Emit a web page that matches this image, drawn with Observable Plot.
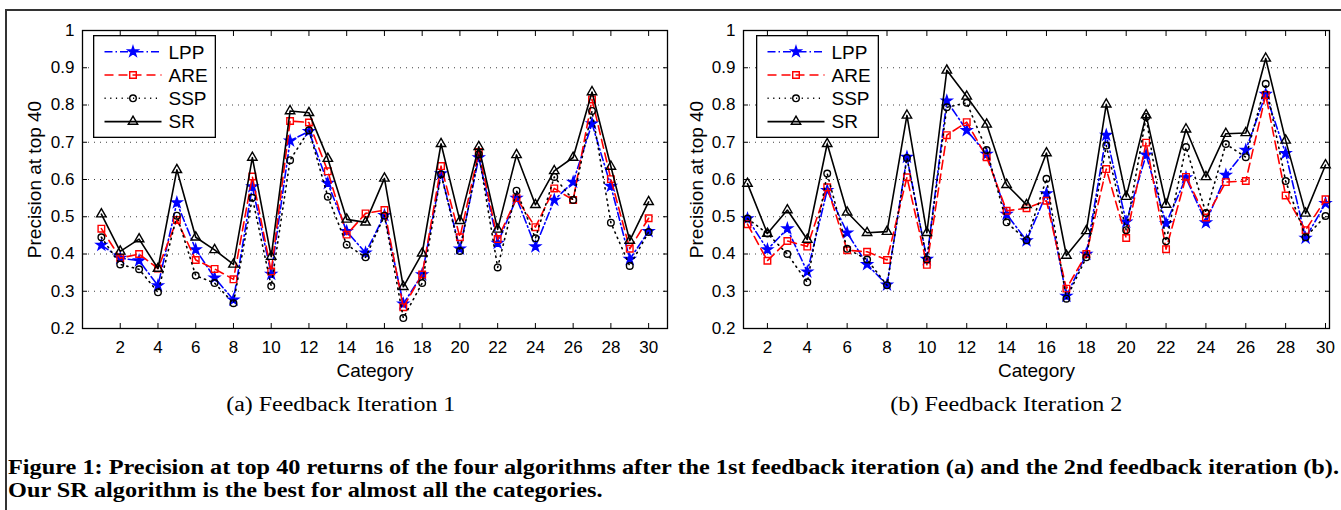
<!DOCTYPE html>
<html><head><meta charset="utf-8">
<script src="https://cdn.jsdelivr.net/npm/d3@7"></script>
<script src="https://cdn.jsdelivr.net/npm/@observablehq/plot@0.6"></script>
<style>
html,body{margin:0;padding:0;background:#fff;}
body{width:1341px;height:510px;overflow:hidden;position:relative;font-family:"Liberation Sans",Arial,sans-serif;}
#frame{position:absolute;left:5px;top:9px;width:1400px;height:600px;border-left:2px solid #333;border-top:2px solid #333;}
.panel{position:absolute;top:0;}
.sub{position:absolute;top:394px;font-family:"Liberation Serif","Times New Roman",serif;font-size:20px;line-height:20px;white-space:nowrap;}
.cap{position:absolute;left:8px;font-family:"Liberation Serif","Times New Roman",serif;font-weight:bold;font-size:20px;line-height:23px;white-space:nowrap;transform-origin:0 0;}
.legend{position:absolute;top:35px;}
</style>
</head><body>
<div id="frame"></div>
<div id="pa" class="panel" style="left:0px"></div>
<div id="pb" class="panel" style="left:675px"></div>
<div id="la" class="legend" style="left:93px"></div>
<div id="lb" class="legend" style="left:756px"></div>
<div id="suba" class="sub" data-cx="341" data-w="229">(a) Feedback Iteration 1</div>
<div id="subb" class="sub" data-cx="1006" data-w="232">(b) Feedback Iteration 2</div>
<div id="cap1" class="cap" style="top:456px" data-w="1331">Figure 1: Precision at top 40 returns of the four algorithms after the 1st feedback iteration (a) and the 2nd feedback iteration (b).</div>
<div id="cap2" class="cap" style="top:479px" data-ref="cap1">Our SR algorithm is the best for almost all the categories.</div>
<script>
const categories = [1,2,3,4,5,6,7,8,9,10,11,12,13,14,15,16,17,18,19,20,21,22,23,24,25,26,27,28,29,30];
const xTicks = [2,4,6,8,10,12,14,16,18,20,22,24,26,28,30];
const yTicks = [0.2,0.3,0.4,0.5,0.6,0.7,0.8,0.9,1];

// Feedback Iteration 1
const lpp1 = [0.424,0.389,0.382,0.315,0.538,0.412,0.336,0.277,0.581,0.346,0.704,0.729,0.590,0.461,0.403,0.504,0.266,0.345,0.616,0.414,0.659,0.429,0.550,0.420,0.545,0.593,0.750,0.582,0.386,0.461];
const are1 = [0.468,0.389,0.400,0.361,0.491,0.384,0.360,0.332,0.608,0.353,0.757,0.753,0.622,0.452,0.509,0.518,0.257,0.345,0.636,0.445,0.674,0.440,0.550,0.472,0.576,0.545,0.815,0.601,0.414,0.496];
const ssp1 = [0.445,0.372,0.359,0.297,0.503,0.342,0.322,0.268,0.551,0.314,0.652,0.732,0.554,0.425,0.391,0.503,0.228,0.322,0.614,0.408,0.668,0.364,0.570,0.442,0.607,0.545,0.784,0.484,0.368,0.459];
const sr1  = [0.507,0.407,0.440,0.361,0.626,0.445,0.411,0.372,0.659,0.393,0.784,0.779,0.656,0.493,0.485,0.603,0.312,0.402,0.696,0.489,0.688,0.466,0.666,0.532,0.623,0.659,0.835,0.635,0.436,0.540];

// Feedback Iteration 2
const lpp2 = [0.495,0.412,0.468,0.352,0.571,0.457,0.372,0.317,0.660,0.386,0.811,0.732,0.668,0.507,0.436,0.562,0.287,0.400,0.719,0.486,0.666,0.482,0.605,0.484,0.612,0.679,0.829,0.670,0.443,0.536];
const are2 = [0.480,0.382,0.435,0.420,0.579,0.410,0.406,0.384,0.606,0.371,0.719,0.754,0.660,0.516,0.523,0.543,0.307,0.400,0.628,0.443,0.699,0.413,0.607,0.498,0.593,0.596,0.827,0.557,0.464,0.547];
const ssp2 = [0.495,0.455,0.400,0.324,0.616,0.414,0.385,0.316,0.658,0.385,0.794,0.806,0.679,0.485,0.437,0.602,0.280,0.391,0.691,0.464,0.768,0.434,0.687,0.510,0.695,0.660,0.857,0.596,0.445,0.502];
const sr2  = [0.589,0.455,0.518,0.439,0.696,0.512,0.457,0.460,0.772,0.457,0.893,0.823,0.748,0.586,0.532,0.671,0.396,0.462,0.802,0.554,0.773,0.533,0.735,0.607,0.723,0.725,0.925,0.705,0.509,0.639];

const seriesNames   = ["LPP","ARE","SSP","SR"];
const seriesColors  = ["#0000ff","#ff0000","#000000","#000000"];
const seriesDash    = ["8,3,1.5,3","9,5","1.2,4.5",null];
const seriesSymbols = ["star","square","circle","triangle"];
const seriesR       = [3.2,3.7,3.3,3.5];
const seriesFill    = ["#0000ff","none","none","none"];

const fmt = d => String(+d.toFixed(1));
const FONT = "'Liberation Sans', Arial, sans-serif";

function rowsFor(values) {
  return categories.map((c, i) => ({cat: c, value: values[i]}));
}

function panel(seriesValues, xDomain, width, ml, mr, labelOffsetY) {
  const marks = [
    Plot.gridY(yTicks, {stroke: "#000", strokeOpacity: 0.75, strokeDasharray: "1,5"}),
    Plot.axisY(yTicks, {tickSize: 0, tickPadding: 8, tickFormat: fmt, label: null, fontSize: 17}),
    Plot.axisY(yTicks, {anchor: "left", tickSize: -5, tickFormat: () => "", label: "Precision at top 40", labelAnchor: "center", labelOffset: labelOffsetY, labelArrow: "none", fontSize: 19}),
    Plot.axisY(yTicks, {anchor: "right", tickSize: -5, tickFormat: () => "", label: null}),
    Plot.axisX(xTicks, {anchor: "bottom", tickSize: 0, tickPadding: 12, label: null, fontSize: 17}),
    Plot.axisX(xTicks, {anchor: "bottom", tickSize: -5, tickFormat: () => "", label: "Category", labelAnchor: "center", labelOffset: 48, labelArrow: "none", fontSize: 19}),
    Plot.axisX(xTicks, {anchor: "top", tickSize: -5, tickFormat: () => "", label: null})
  ];
  seriesValues.forEach((vals, i) => {
    const rows = rowsFor(vals);
    marks.push(Plot.line(rows, {x: "cat", y: "value", stroke: seriesColors[i], strokeWidth: 1.6, strokeDasharray: seriesDash[i] || undefined}));
    marks.push(Plot.dot(rows, {x: "cat", y: "value", symbol: seriesSymbols[i], r: seriesR[i], stroke: seriesColors[i], strokeWidth: 1.4, fill: seriesFill[i]}));
  });
  marks.push(Plot.frame({stroke: "#000", strokeWidth: 1.3}));
  return Plot.plot({
    width, height: 390,
    marginLeft: ml, marginRight: mr, marginTop: 30, marginBottom: 62,
    style: {fontFamily: FONT, fontSize: "17px", background: "transparent", color: "#000", overflow: "visible"},
    x: {domain: xDomain},
    y: {domain: [0.2, 1]},
    marks
  });
}

document.getElementById("pa").appendChild(panel([lpp1, are1, ssp1, sr1], [0, 31], 675, 82, 8, 55));
document.getElementById("pb").appendChild(panel([lpp2, are2, ssp2, sr2], [0.8, 30.2], 666, 68, 12, 54));

function legend(el) {
  const w = 123, h = 103;
  const svg = d3.select(el).append("svg").attr("width", w).attr("height", h)
    .style("display", "block").style("background", "#fff");
  svg.append("rect").attr("x", 0.65).attr("y", 0.65).attr("width", w - 1.3).attr("height", h - 1.3)
    .attr("fill", "#fff").attr("stroke", "#000").attr("stroke-width", 1.3);
  const symTypes = {star: d3.symbolStar, square: d3.symbolSquare, circle: d3.symbolCircle, triangle: d3.symbolTriangle};
  seriesNames.forEach((name, i) => {
    const cy = 16.7 + i * 23.3;
    svg.append("line").attr("x1", 11.5).attr("x2", 68.5).attr("y1", cy).attr("y2", cy)
      .attr("stroke", seriesColors[i]).attr("stroke-width", 1.6)
      .attr("stroke-dasharray", seriesDash[i] || null);
    svg.append("path").attr("transform", `translate(40,${cy})`)
      .attr("d", d3.symbol(symTypes[seriesSymbols[i]], Math.PI * seriesR[i] * seriesR[i])())
      .attr("fill", seriesFill[i]).attr("stroke", seriesColors[i]).attr("stroke-width", 1.4);
    svg.append("text").attr("x", 75.5).attr("y", cy).attr("dy", "0.36em")
      .attr("font-family", FONT).attr("font-size", 19).text(name);
  });
}
legend(document.getElementById("la"));
legend(document.getElementById("lb"));

// Stretch the serif texts horizontally to the widths of the original typesetting.
const cap1 = document.getElementById("cap1");
const capScale = (+cap1.dataset.w) / cap1.getBoundingClientRect().width;
cap1.style.transform = `scaleX(${capScale})`;
document.getElementById("cap2").style.transform = `scaleX(${capScale})`;
for (const id of ["suba", "subb"]) {
  const el = document.getElementById(id);
  const w0 = el.getBoundingClientRect().width;
  const s = (+el.dataset.w) / w0;
  el.style.left = (+el.dataset.cx - w0 / 2) + "px";
  el.style.transformOrigin = "50% 0";
  el.style.transform = `scaleX(${s})`;
}
</script>
</body></html>
